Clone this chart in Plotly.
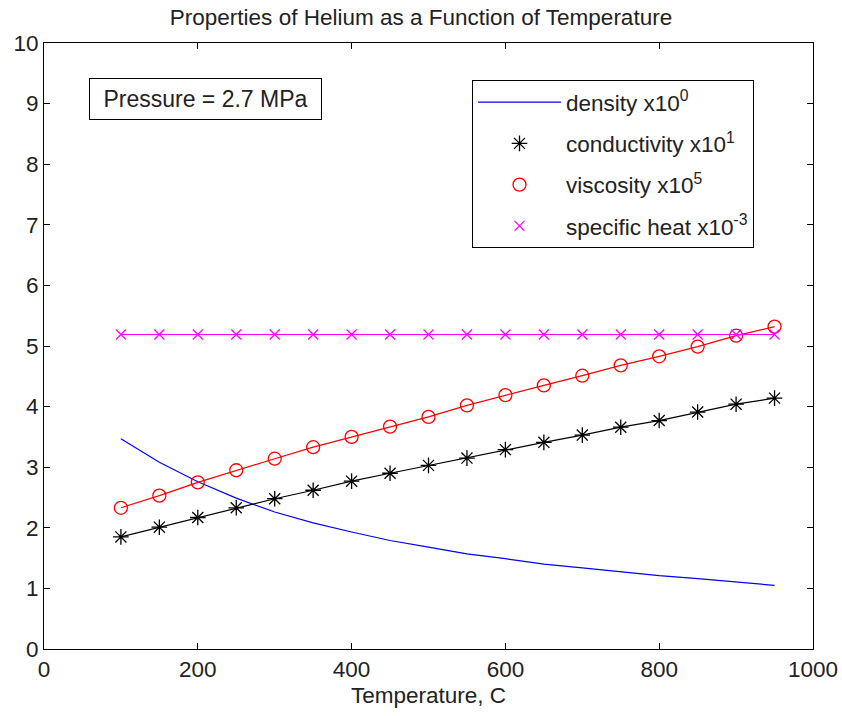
import plotly.graph_objects as go

temperature = [100, 150, 200, 250, 300, 350, 400, 450, 500, 550, 600, 650, 700, 750, 800, 850, 900, 950]
density = [3.47, 3.08, 2.76, 2.49, 2.26, 2.08, 1.93, 1.79, 1.68, 1.57, 1.49, 1.40, 1.34, 1.27, 1.21, 1.16, 1.10, 1.05]
conductivity = [1.85, 2.01, 2.17, 2.33, 2.48, 2.62, 2.77, 2.90, 3.03, 3.15, 3.29, 3.41, 3.53, 3.66, 3.77, 3.91, 4.04, 4.14]
viscosity = [2.33, 2.53, 2.75, 2.95, 3.14, 3.33, 3.50, 3.67, 3.83, 4.02, 4.19, 4.35, 4.51, 4.68, 4.83, 4.99, 5.17, 5.32]
specific_heat = [5.19] * 18
x_ticks = [0, 200, 400, 600, 800, 1000]
y_ticks = list(range(11))

names = ["density x10<sup>0</sup>", "conductivity x10<sup>1</sup>",
         "viscosity x10<sup>5</sup>", "specific heat x10<sup>-3</sup>"]

FONT = "Liberation Sans, Arial, sans-serif"
FS = 22.5
TXT = "#222222"

# plot-area pixel frame (for placing legend / annotation boxes)
PL, PR, PT, PB = 44, 813, 43, 649
PW, PH = PR - PL, PB - PT

fig = go.Figure()

fig.add_trace(go.Scatter(x=temperature, y=density, mode="lines",
                         line=dict(color="#0000ff", width=1.2),
                         name=names[0], legendgroup="g1"))
fig.add_trace(go.Scatter(x=temperature, y=conductivity, mode="lines",
                         line=dict(color="black", width=1.2), showlegend=False))
fig.add_trace(go.Scatter(x=temperature, y=conductivity, mode="markers",
                         marker=dict(symbol="asterisk-open", size=13, color="black",
                                     line=dict(color="black", width=1.3)),
                         name=names[1], legendgroup="g2"))
fig.add_trace(go.Scatter(x=temperature, y=viscosity, mode="lines",
                         line=dict(color="#ff0000", width=1.2), showlegend=False))
fig.add_trace(go.Scatter(x=temperature, y=viscosity, mode="markers",
                         marker=dict(symbol="circle-open", size=13, color="#ff0000",
                                     line=dict(color="#ff0000", width=1.3)),
                         name=names[2], legendgroup="g3"))
fig.add_trace(go.Scatter(x=temperature, y=specific_heat, mode="lines",
                         line=dict(color="#ff00ff", width=1.2), showlegend=False))
fig.add_trace(go.Scatter(x=temperature, y=specific_heat, mode="markers",
                         marker=dict(symbol="x-thin-open", size=10, color="#ff00ff",
                                     line=dict(color="#ff00ff", width=1.2)),
                         name=names[3], legendgroup="g4"))

axis_common = dict(showline=True, linecolor="black", linewidth=1, mirror="ticks",
                   ticks="inside", ticklen=6, tickcolor="black", showgrid=False,
                   zeroline=False, automargin=False, ticklabeloverflow="allow",
                   tickfont=dict(family=FONT, size=FS, color=TXT))

fig.update_layout(
    width=842, height=716,
    paper_bgcolor="white", plot_bgcolor="white",
    margin=dict(l=PL, r=842 - PR, t=PT, b=716 - PB),
    title=dict(text="Properties of Helium as a Function of Temperature",
               x=0.5, xref="container", xanchor="center", y=1 - 17 / 716, yanchor="middle",
               automargin=False,
               font=dict(family=FONT, size=FS, color=TXT)),
    xaxis=dict(range=[0, 1000], tickvals=x_ticks,
               title=dict(text="Temperature, C", standoff=6,
                          font=dict(family=FONT, size=FS, color=TXT)),
               **axis_common),
    yaxis=dict(range=[0, 10], tickvals=y_ticks, **axis_common),
    legend=dict(x=(472 - PL) / PW, y=(PB - 80) / PH, xanchor="left", yanchor="top",
                bordercolor="black", borderwidth=1, bgcolor="white",
                font=dict(family=FONT, size=FS, color=TXT),
                traceorder="grouped", tracegroupgap=9, itemwidth=83),
    annotations=[dict(text="Pressure = 2.7 MPa", xref="paper", yref="paper",
                      x=(89 - PL) / PW, y=(PB - 78) / PH, xanchor="left", yanchor="top",
                      showarrow=False, bordercolor="black", borderwidth=1, borderpad=8,
                      width=215, height=24,
                      bgcolor="white", font=dict(family=FONT, size=23, color=TXT))],
    showlegend=True,
)

# remove the browser's default 8px body margin so the figure fills the window
fig.write_html("out.html", config={"displayModeBar": False},
               post_script="document.body.style.margin='0';document.body.style.overflow='hidden';")
